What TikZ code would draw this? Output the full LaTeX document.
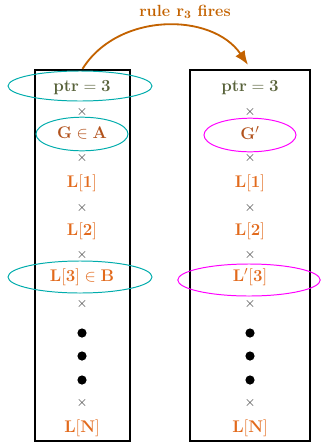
\documentclass[tikz,border=0pt]{standalone}
\usepackage{amsmath,amssymb}
\usetikzlibrary{arrows.meta}
\definecolor{rulebrown}{RGB}{195,98,0}
\definecolor{ptrgreen}{RGB}{88,98,58}
\definecolor{gbrown}{RGB}{178,82,28}
\definecolor{lorange}{RGB}{226,106,28}
\definecolor{ringcyan}{RGB}{0,172,172}
\definecolor{ringpink}{RGB}{255,0,255}

\begin{document}
\begin{tikzpicture}[x=0.025cm,y=-0.025cm,
  colbox/.style={draw,line width=1.5pt,minimum height=9.275cm,inner sep=0pt},
  entry/.style={font=\fontsize{12.5}{14}\selectfont},
  cross/.style={text=black!80,inner sep=0pt},
  dotmark/.style={circle,fill=black,minimum size=0.23cm,inner sep=0pt}]
\useasboundingbox (0,0) rectangle (321,442);
% the two columns
\node (leftcol) [colbox,minimum width=2.375cm] at (82.5,255.5) {};
\node (rightcol) [colbox,minimum width=3cm] at (250,255.5) {};
% left column entries
\node (lptr) [entry] at (82,88) {$\color{ptrgreen}\mathbf{ptr=3}$};
\node (lg) [entry] at (82,133) {$\color{gbrown}\mathbf{G\in A}$};
\node (ll1) [entry] at (82,183) {$\color{lorange}\mathbf{L[1]}$};
\node (ll2) [entry] at (82,231) {$\color{lorange}\mathbf{L[2]}$};
\node (ll3) [entry] at (82,277) {$\color{lorange}\mathbf{L[3]\in B}$};
\node (lln) [entry] at (82,428) {$\color{lorange}\mathbf{L[N]}$};
% right column entries
\node (rptr) [entry] at (250,88) {$\color{ptrgreen}\mathbf{ptr=3}$};
\node (rg) [entry] at (250,133) {$\color{gbrown}\mathbf{G'}$};
\node (rl1) [entry] at (250,183) {$\color{lorange}\mathbf{L[1]}$};
\node (rl2) [entry] at (250,231) {$\color{lorange}\mathbf{L[2]}$};
\node (rl3) [entry] at (250,277) {$\color{lorange}\mathbf{L'[3]}$};
\node (rln) [entry] at (250,428) {$\color{lorange}\mathbf{L[N]}$};
% separators and dots
\foreach \y [count=\i] in {112,158,208,255,304,403}{
  \node (lx\i) [cross] at (82,\y) {$\times$};
  \node (rx\i) [cross] at (250,\y) {$\times$};
}
\foreach \y [count=\i] in {333,356,380}{
  \node (ldot\i) [dotmark] at (82,\y) {};
  \node (rdot\i) [dotmark] at (250,\y) {};
}
% rings
\draw [ringcyan,line width=0.7pt] (80,86) ellipse (1.8cm and 0.375cm);
\draw [ringcyan,line width=0.7pt] (82,134) ellipse (1.15cm and 0.42cm);
\draw [ringcyan,line width=0.7pt] (80,277) ellipse (1.8cm and 0.4cm);
\draw [ringpink,line width=0.7pt] (250,135) ellipse (1.15cm and 0.42cm);
\draw [ringpink,line width=0.7pt] (249,280) ellipse (1.78cm and 0.4cm);
% rule firing
\draw [rulebrown,line width=1.3pt,-{Latex[length=10pt,width=8pt]}] (leftcol.north) .. controls (118,12) and (212,12) .. ([xshift=-0.05cm,yshift=0.1cm]rightcol.north);
\node (fires) [font=\fontsize{11.5}{13}\selectfont] at (185,12) {\color{rulebrown}\textbf{rule $\mathbf{r_3}$ fires}};
\end{tikzpicture}
\end{document}
